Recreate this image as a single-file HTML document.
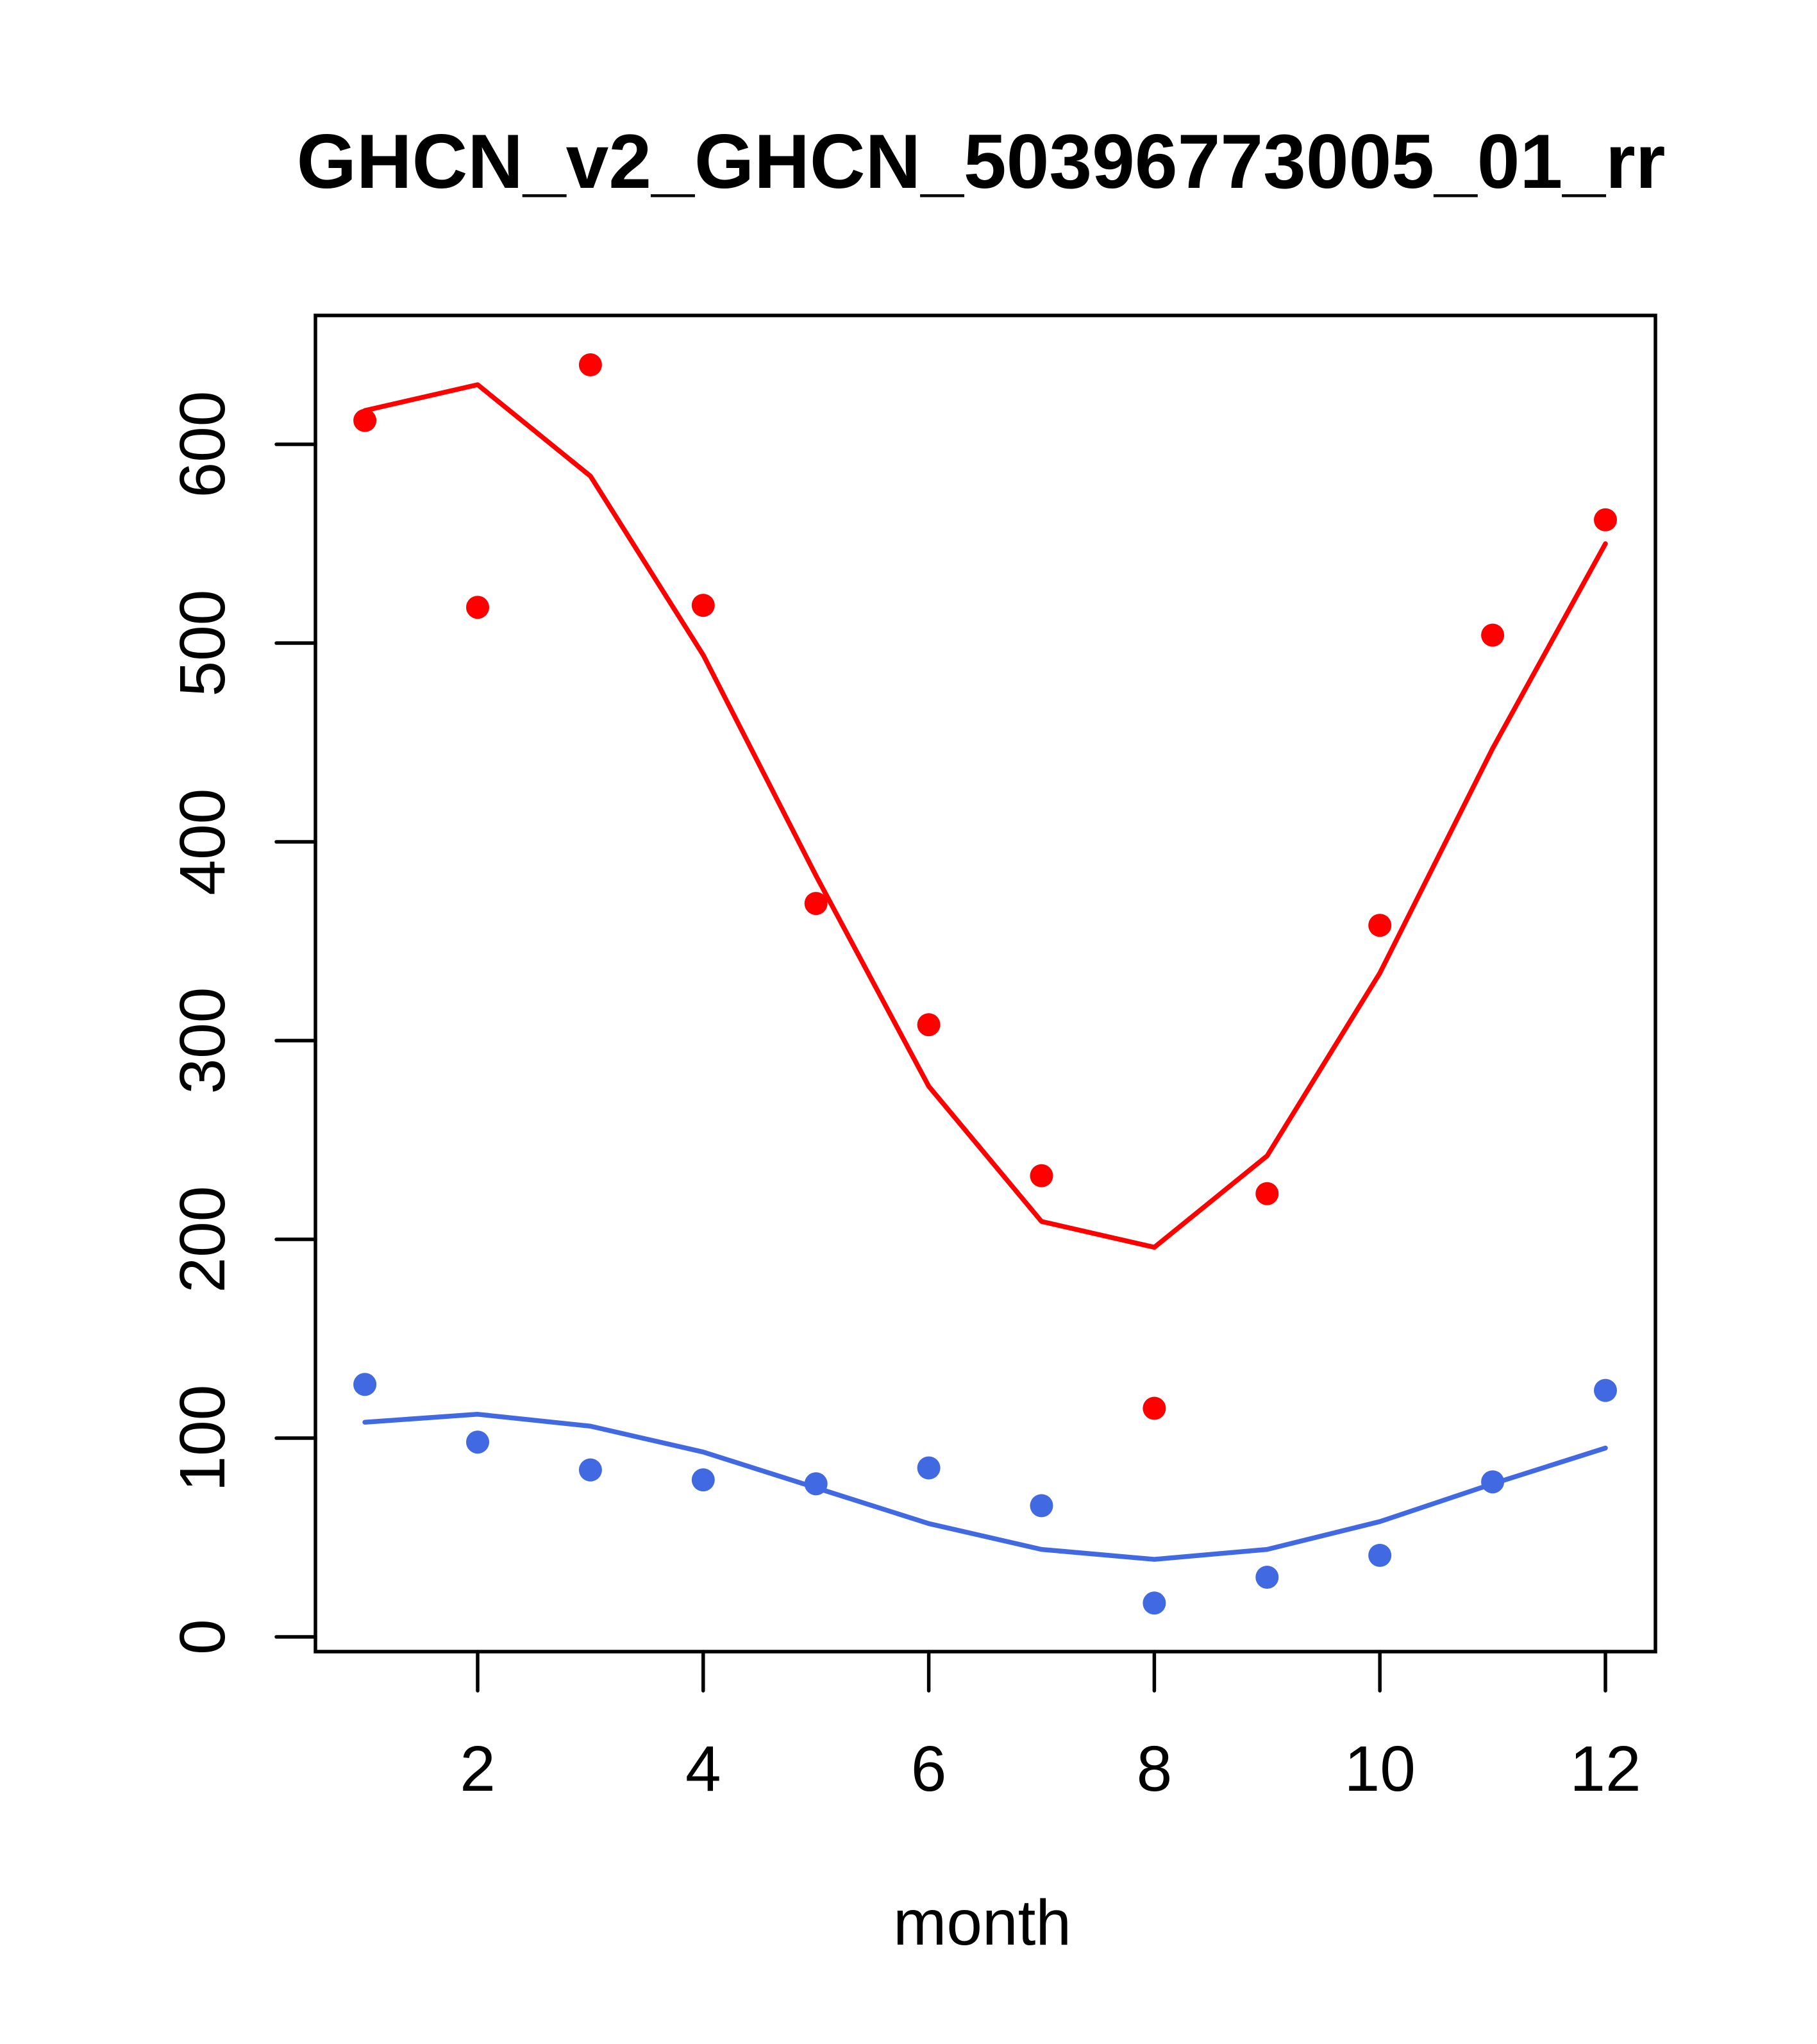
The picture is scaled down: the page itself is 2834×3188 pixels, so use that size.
<!DOCTYPE html>
<html><head><meta charset="utf-8"><style>html,body{margin:0;padding:0;background:#fff}svg{display:block}text{font-family:"Liberation Sans",sans-serif}</style></head>
<body>
<svg id="chart" width="2834" height="3188" xmlns="http://www.w3.org/2000/svg">
<text x="1530" y="293" font-size="120" font-weight="bold" text-anchor="middle">GHCN_v2_GHCN_50396773005_01_rr</text>
<rect x="492" y="492" width="2090" height="2084" fill="none" stroke="#000" stroke-width="5.5"/>
<text x="1532" y="3033" font-size="100" text-anchor="middle">month</text>
<g id="axes"></g>
<g id="marks"></g>
</svg>
<script>
const months = [1,2,3,4,5,6,7,8,9,10,11,12];
const redPoints = [612,518,640,519,369,308,232,115,223,358,504,562];
const redLine = [617,630,584,494,383,277,209,196,242,334,447,550];
const bluePoints = [127,98,84,79,77,85,66,17,30,41,78,124];
const blueLine = [108,112,106,93,75,57,44,39,44,58,77,95];
const xTicks = [2,4,6,8,10,12];
const yTicks = [0,100,200,300,400,500,600];
const NS='http://www.w3.org/2000/svg';
function xs(m){return 745+(m-2)*175.9;}
function ys(v){return 2553-v*3.1;}
const axes=document.getElementById('axes'), marks=document.getElementById('marks');
function mk(tag,attrs,parent){const e=document.createElementNS(NS,tag);for(const k in attrs)e.setAttribute(k,attrs[k]);parent.appendChild(e);return e;}
xTicks.forEach(t=>{
  const l=mk('line',{x1:xs(t),x2:xs(t),y1:2576,y2:2637,stroke:'#000','stroke-width':5.5,'stroke-linecap':'round'},axes);
  
  
  const tx=mk('text',{x:xs(t),y:2793,'font-size':100,'text-anchor':'middle'},axes);
  tx.textContent=t;
  
  
});
yTicks.forEach(t=>{
  const y=ys(t);
  const l=mk('line',{x1:431,x2:492,y1:y,y2:y,stroke:'#000','stroke-width':5.5,'stroke-linecap':'round'},axes);
  
  
  const tx=mk('text',{x:350,y:y,'font-size':100,'text-anchor':'middle',transform:`rotate(-90 350 ${y})`},axes);
  tx.textContent=t;
  
  
});
function line(vals,color,name){
  const p=mk('polyline',{points:months.map((m,i)=>xs(m)+','+ys(vals[i])).join(' '),fill:'none',stroke:color,'stroke-width':7.5,'stroke-linejoin':'round','stroke-linecap':'round'},marks);
  
  
}
function pts(vals,color,name){
  months.forEach((m,i)=>{
    const c=mk('circle',{cx:xs(m),cy:ys(vals[i]),r:18,fill:color},marks);
    
    
  });
}
line(redLine,'#ff0000','red-fit-line');
line(blueLine,'#4169e1','blue-fit-line');
pts(redPoints,'#ff0000','red-point');
pts(bluePoints,'#4169e1','blue-point');
</script>
</body></html>
